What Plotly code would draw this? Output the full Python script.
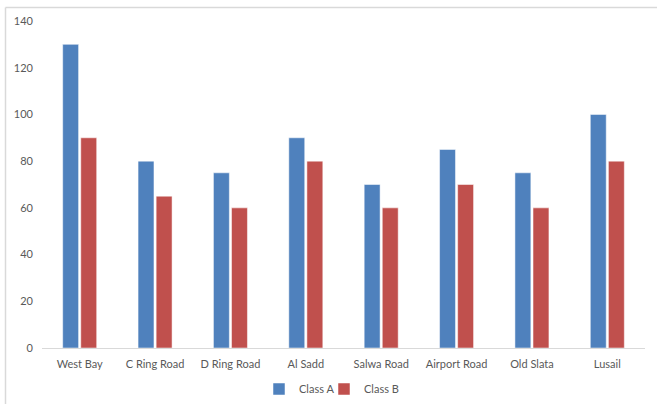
import plotly.graph_objects as go

# Traffic counts per area
areas = ["West Bay", "C Ring Road", "D Ring Road", "Al Sadd",
         "Salwa Road", "Airport Road", "Old Slata", "Lusail"]
class_a = [130, 80, 75, 90, 70, 85, 75, 100]
class_b = [90, 65, 60, 80, 60, 70, 60, 80]
y_ticks = [0, 20, 40, 60, 80, 100, 120, 140]

BLUE = "#4F81BD"
RED = "#C0504D"
TEXT = "#595959"
FONT = "Lato, Open Sans, sans-serif"

fig = go.Figure()
fig.add_trace(go.Bar(name="Class A", x=areas, y=class_a, marker_color=BLUE,
                     marker_line_color="white", marker_line_width=0.5,
                     legend="legend"))
fig.add_trace(go.Bar(name="Class B", x=areas, y=class_b, marker_color=RED,
                     marker_line_color="white", marker_line_width=0.5,
                     legend="legend2"))

W, H = 657, 404
L, R, T, B = 42, 12, 21, 56
pw, ph = W - L - R, H - T - B


def px_x(x):
    return (x - L) / pw


def px_y(y):
    return (H - B - y) / ph


# Chart frame: top and left edges
frame = dict(type="line", xref="paper", yref="paper",
             line=dict(color="#D9D9D9", width=1.5))
fig.add_shape(**frame, x0=px_x(5.5), x1=px_x(W), y0=px_y(7.5), y1=px_y(7.5))
fig.add_shape(**frame, x0=px_x(5.5), x1=px_x(5.5), y0=px_y(7.5), y1=px_y(H))

legend_style = dict(orientation="h", xref="container", yref="container",
                    xanchor="left", y=1 - 389 / H, yanchor="middle",
                    font=dict(size=11, color=TEXT), itemwidth=30,
                    bgcolor="rgba(0,0,0,0)")

fig.update_layout(
    width=W, height=H,
    margin=dict(l=L, r=R, t=T, b=B, autoexpand=False),
    paper_bgcolor="white", plot_bgcolor="white",
    barmode="group", bargap=0.52, bargroupgap=0.12,
    font=dict(family=FONT, size=11, color=TEXT),
    showlegend=True,
    legend=dict(**legend_style, x=259 / W),
    legend2=dict(**legend_style, x=324 / W),
    xaxis=dict(showline=True, linecolor="#D9D9D9", linewidth=1,
               showgrid=False, ticks="", tickfont=dict(size=11, color=TEXT),
               ticklabelstandoff=6),
    yaxis=dict(range=[0, 140], tickvals=y_ticks, showgrid=False,
               zeroline=False, showline=False, ticks="",
               tickfont=dict(size=11, color=TEXT), ticklabelstandoff=8),
)

fig.write_html("out.html")
